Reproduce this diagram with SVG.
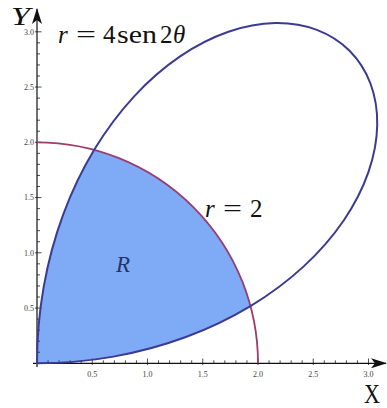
<svg xmlns="http://www.w3.org/2000/svg" width="387" height="408" viewBox="0 0 387 408">
<defs>
<style>
.ax{stroke:#111;stroke-width:1.2;fill:none}
.tk{stroke:#222;stroke-width:0.8;fill:none}
.tl{font-family:"Liberation Serif",serif;font-size:8px;fill:#444}
.lbl{font-family:"Liberation Serif",serif;fill:#111}
.it{font-style:italic}
.rose{fill:none;stroke:#3b3b92;stroke-width:2}
.circ{fill:none;stroke:#9b3d6c;stroke-width:1.8}
.reg{fill:#7eaaf6;stroke:none}
</style>
<marker id="arrX" viewBox="0 0 16 10" refX="15" refY="5" markerWidth="16" markerHeight="10" markerUnits="userSpaceOnUse" orient="auto">
<path d="M0,0 L16,5 L0,10 L4,5 Z" fill="#111"/>
</marker>
</defs>
<g id="region-R">
<path class="reg" transform="translate(37,363.3) scale(110.5,-110.5)" d="M0,0 C0.23271,0 0.46541,0.02044 0.69195,0.06054 C0.91849,0.10064 1.13885,0.16041 1.34730,0.23757 C1.55575,0.31473 1.75224,0.40928 1.93185,0.51764 A2,2 0 0 1 0.51764,1.93185 C0.40928,1.75224 0.31473,1.55575 0.23757,1.34730 C0.16041,1.13885 0.10064,0.91849 0.06054,0.69195 C0.02044,0.46541 0,0.23271 0,0 Z"/>
</g>
<g id="axes">
<path class="tk" d="M48.05,363.3v-3M59.1,363.3v-3M70.15,363.3v-3M81.2,363.3v-3M92.25,365v-6.5M103.3,363.3v-3M114.35,363.3v-3M125.4,363.3v-3M136.45,363.3v-3M147.5,365v-6.5M158.55,363.3v-3M169.6,363.3v-3M180.65,363.3v-3M191.7,363.3v-3M202.75,365v-6.5M213.8,363.3v-3M224.85,363.3v-3M235.9,363.3v-3M246.95,363.3v-3M258,365v-6.5M269.05,363.3v-3M280.1,363.3v-3M291.15,363.3v-3M302.2,363.3v-3M313.25,365v-6.5M324.3,363.3v-3M335.35,363.3v-3M346.4,363.3v-3M357.45,363.3v-3M368.5,365v-6.5"/>
<path class="tk" d="M37,352.25h3M37,341.2h3M37,330.15h3M37,319.1h3M35,308.05h6.5M37,297h3M37,285.95h3M37,274.9h3M37,263.85h3M35,252.8h6.5M37,241.75h3M37,230.7h3M37,219.65h3M37,208.6h3M35,197.55h6.5M37,186.5h3M37,175.45h3M37,164.4h3M37,153.35h3M35,142.3h6.5M37,131.25h3M37,120.2h3M37,109.15h3M37,98.1h3M35,87.05h6.5M37,76h3M37,64.95h3M37,53.9h3M37,42.85h3M35,31.8h6.5"/>
<line class="ax" x1="33" y1="363.3" x2="386" y2="363.3" marker-end="url(#arrX)"/>
<line class="ax" x1="37" y1="367" x2="37" y2="9" marker-end="url(#arrX)"/>
<g class="tl" text-anchor="middle">
<text x="92.25" y="377">0.5</text>
<text x="147.5" y="377">1.0</text>
<text x="202.75" y="377">1.5</text>
<text x="258" y="377">2.0</text>
<text x="313.25" y="377">2.5</text>
<text x="368.5" y="377">3.0</text>
</g>
<g class="tl" text-anchor="end">
<text x="34" y="310.8">0.5</text>
<text x="34" y="255.5">1.0</text>
<text x="34" y="200.3">1.5</text>
<text x="34" y="145">2.0</text>
<text x="34" y="89.8">2.5</text>
<text x="34" y="34.5">3.0</text>
</g>
<text class="lbl" x="364" y="403" font-size="27" textLength="16" lengthAdjust="spacingAndGlyphs">X</text>
<text class="lbl it" x="11" y="25" font-size="25" textLength="19" lengthAdjust="spacingAndGlyphs">Y</text>
</g>
<g id="curves">
<path id="circle" class="circ" vector-effect="non-scaling-stroke" transform="translate(37,363.3) scale(110.5,-110.5)" d="M2,0 A2,2 0 0 1 0,2"/>
<path id="rose" class="rose" vector-effect="non-scaling-stroke" transform="translate(37,363.3) scale(110.5,-110.5)" d="M0,0 C0.23271,0 0.46541,0.02044 0.69195,0.06054 C0.91849,0.10064 1.13885,0.16041 1.34730,0.23757 C1.55575,0.31473 1.75224,0.40928 1.93185,0.51764 C2.11146,0.62600 2.27416,0.74813 2.41609,0.87938 C2.55802,1.01063 2.67920,1.15098 2.77710,1.29498 C2.87500,1.43898 2.94962,1.58661 3,1.73205 C3.05038,1.87749 3.07652,2.02073 3.07900,2.15595 C3.08148,2.29117 3.06033,2.41834 3.01763,2.53209 C2.97493,2.64584 2.91071,2.74615 2.82843,2.82843 C2.74615,2.91071 2.64584,2.97493 2.53209,3.01763 C2.41834,3.06033 2.29117,3.08148 2.15595,3.07900 C2.02073,3.07652 1.87749,3.05038 1.73205,3 C1.58661,2.94962 1.43898,2.87500 1.29498,2.77710 C1.15098,2.67920 1.01063,2.55802 0.87938,2.41609 C0.74813,2.27416 0.62600,2.11146 0.51764,1.93185 C0.40928,1.75224 0.31473,1.55575 0.23757,1.34730 C0.16041,1.13885 0.10064,0.91849 0.06054,0.69195 C0.02044,0.46541 0,0.23271 0,0 Z"/>
</g>
<g id="labels" class="lbl" font-size="25">
<text y="43"><tspan class="it" x="58">r</tspan><tspan x="76" textLength="20" lengthAdjust="spacingAndGlyphs">=</tspan><tspan x="103">4</tspan><tspan x="117" textLength="40" lengthAdjust="spacingAndGlyphs">sen</tspan><tspan x="160">2</tspan><tspan class="it" x="173">θ</tspan></text>
<text y="217"><tspan class="it" x="205">r</tspan><tspan x="223" textLength="19" lengthAdjust="spacingAndGlyphs">=</tspan><tspan x="250">2</tspan></text>
<text class="it" x="116" y="272" font-size="23" fill="#233566">R</text>
</g>
</svg>
